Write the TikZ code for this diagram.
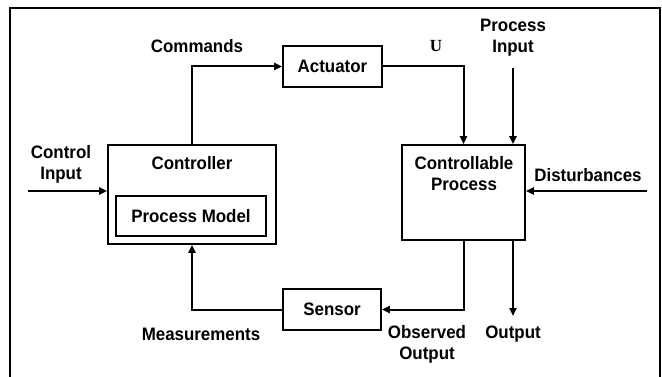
\documentclass[tikz,border=0pt]{standalone}
\usepackage{fontspec}
\setmainfont{Liberation Sans}
\newfontfamily\labelfont[FakeStretch=0.94]{Liberation Sans}
\newfontfamily\serifbold{Liberation Serif}
\usetikzlibrary{arrows.meta,calc}
\begin{document}
\begin{tikzpicture}[x=1pt,y=-1pt,
  lbl/.style={font=\labelfont\fontsize{18}{21}\selectfont\bfseries, align=center, inner sep=0pt},
  blockbox/.style={draw, line width=1.7pt, inner sep=0pt, lbl},
  conn/.style={line width=2pt, -{Triangle[length=8pt,width=7pt]}},
  wire/.style={line width=2pt}]
  \useasboundingbox (0,0) rectangle (662,377);
  % outer frame (open at the bottom)
  \draw[line width=2.4pt] (10,377) -- (10,8) -- (660,8) -- (660,377);

  % blocks
  \node[blockbox, minimum width=168pt, minimum height=99pt] (ctrl) at (192,194.5) {};
  \node[lbl] (ctrltxt) at (192,163) {Controller};
  \node[blockbox, minimum width=150pt, minimum height=40pt] (pm) at (191,216) {Process Model};
  \node[blockbox, minimum width=99pt, minimum height=41pt] (act) at (332.5,66.5) {Actuator};
  \node[blockbox, minimum width=123pt, minimum height=95pt] (proc) at (463.5,192.5) {};
  \node[lbl] (proctxt) at (464,173.5) {Controllable\\Process};
  \node[blockbox, minimum width=98pt, minimum height=41pt] (sens) at (332,309.5) {Sensor};

  % free ends of the external signals
  \coordinate (cin) at (28,191);
  \coordinate (dist) at (647,191);
  \coordinate (pin) at (513,68);
  \coordinate (pout) at (513,316);

  % connectors
  \draw[conn] (ctrl.north) |- (act.west);
  \draw[conn] (act.east) -| (proc.north);
  \draw[conn] (pin) -- (pin |- proc.north);
  \draw[conn] (dist) -- (dist -| proc.east);
  \draw[conn] (cin) -- (cin -| ctrl.west);
  \draw[conn] (proc.south) |- (sens.east);
  \draw[conn] (pout |- proc.south) -- (pout);
  \draw[conn] (sens.west) -| (ctrl.south);

  % signal labels
  \node[lbl] (lcmd) at (197,46) {Commands};
  \node[font=\fontsize{17}{21}\serifbold\bfseries, inner sep=0pt] (lu) at (436,46) {U};
  \node[lbl] (lpin) at (513,38) {Process\\Input};
  \node[lbl] (lcin) at (61,164.5) {Control\\Input};
  \node[lbl] (ldist) at (588,175) {Disturbances};
  \node[lbl] (lmeas) at (201,334) {Measurements};
  \node[lbl] (lobs) at (427,344) {Observed\\Output};
  \node[lbl] (lout) at (513,334) {Output};
\end{tikzpicture}
\end{document}
